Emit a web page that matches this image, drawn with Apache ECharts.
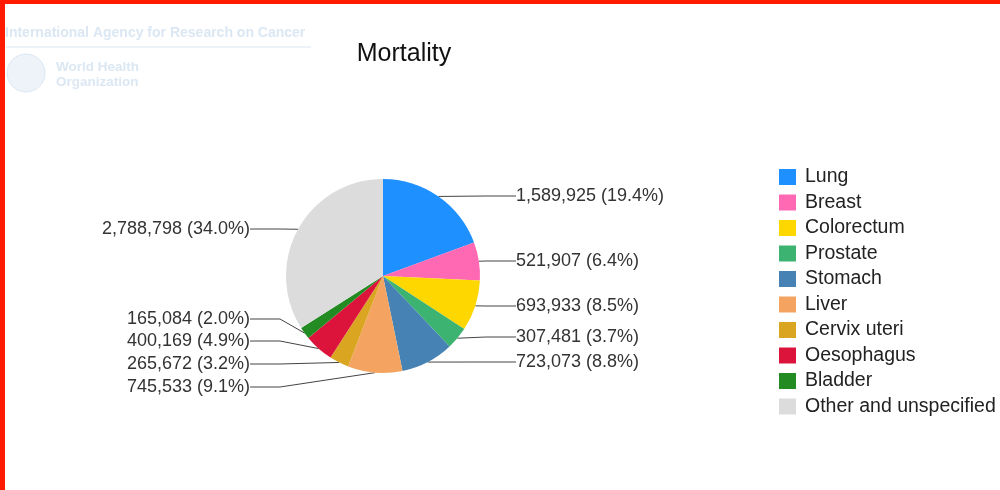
<!DOCTYPE html>
<html>
<head>
<meta charset="utf-8">
<script src="https://cdn.jsdelivr.net/npm/echarts@6/dist/echarts.min.js"></script>
<style>
html, body { margin: 0; padding: 0; background: #fff; }
#container { width: 1000px; height: 490px; }
</style>
</head>
<body>
<div id="container"></div>
<script>
var causes = ['Lung', 'Breast', 'Colorectum', 'Prostate', 'Stomach', 'Liver', 'Cervix uteri', 'Oesophagus', 'Bladder', 'Other and unspecified'];
var deaths = [1589925, 521907, 693933, 307481, 723073, 745533, 265672, 400169, 165084, 2788798];
var colors = ['#1e90ff', '#ff69b4', '#ffd700', '#3cb371', '#4682b4', '#f4a460', '#daa520', '#dc143c', '#228b22', '#dcdcdc'];

// label text rows (vertical centre of each label), right side first
var labelRows = [196, 261, 306, 337, 362, 387, 364, 341, 319, 229];

var dom = document.getElementById('container');
var myChart = echarts.init(dom);

var pieData = [];
for (var i = 0; i < causes.length; i++) {
	pieData.push({ name: causes[i], value: deaths[i], itemStyle: { color: colors[i] } });
}

var wm = '#dbe7f3';
var option = {
	animation: false,
	title: {
		text: 'Mortality',
		left: 399,
		top: 37,
		textAlign: 'center',
		textStyle: { fontFamily: 'Liberation Sans', fontSize: 25, fontWeight: 'normal', color: '#111' }
	},
	legend: {
		orient: 'vertical',
		left: 779,
		top: 167,
		padding: 0,
		itemWidth: 17,
		itemHeight: 16,
		itemGap: 5.5,
		icon: 'rect',
		textStyle: { fontFamily: 'Liberation Sans', fontSize: 19.5, color: '#222', padding: [0, 0, 0, 4] },
		data: causes
	},
	graphic: [
		{ type: 'rect', shape: { x: 0, y: 0, width: 1000, height: 4 }, style: { fill: '#ff1a00' } },
		{ type: 'rect', shape: { x: 0, y: 0, width: 5, height: 490 }, style: { fill: '#ff1a00' } },
		{ type: 'text', x: 5, y: 26, style: { text: 'International Agency for Research on Cancer', fill: wm, font: 'bold 14px Liberation Sans' } },
		{ type: 'line', shape: { x1: 6, y1: 47, x2: 311, y2: 47 }, style: { stroke: wm, lineWidth: 1 } },
		{ type: 'circle', shape: { cx: 26, cy: 73, r: 19 }, style: { fill: '#eef3fa', stroke: wm, lineWidth: 1 } },
		{ type: 'text', x: 56, y: 60, style: { text: 'World Health', fill: wm, font: 'bold 13.5px Liberation Sans' } },
		{ type: 'text', x: 56, y: 75, style: { text: 'Organization', fill: wm, font: 'bold 13.5px Liberation Sans' } }
	],
	series: [{
		name: 'Mortality',
		type: 'pie',
		center: [383, 276],
		radius: [0, 97],
		startAngle: 90,
		clockwise: true,
		percentPrecision: 1,
		avoidLabelOverlap: false,
		label: {
			show: true,
			fontFamily: 'Liberation Sans',
			fontSize: 18,
			color: '#333',
			formatter: function (p) {
				return p.value.toLocaleString('en-US') + ' (' + p.percent.toFixed(1) + '%)';
			}
		},
		labelLine: {
			show: true,
			length: 10,
			length2: 30,
			lineStyle: { color: '#444', width: 1 }
		},
		labelLayout: function (params) {
			var right = params.dataIndex < 5;
			return {
				x: right ? 516 : 250,
				y: labelRows[params.dataIndex],
				align: right ? 'left' : 'right',
				verticalAlign: 'middle'
			};
		},
		data: pieData
	}]
};
myChart.setOption(option);
</script>
</body>
</html>
